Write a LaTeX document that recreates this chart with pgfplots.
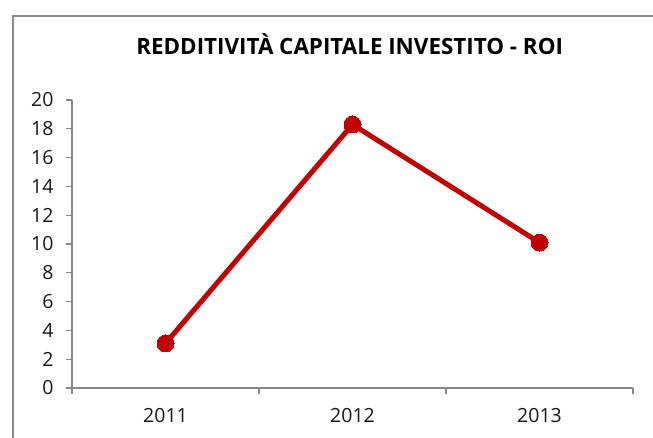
\documentclass[border=0pt]{standalone}
\usepackage{pgfplots}
\pgfplotsset{compat=1.18}
\usepackage{fontspec}
\setmainfont{Open Sans}
\definecolor{roired}{HTML}{C00000}
\definecolor{axisgray}{HTML}{888888}
\definecolor{framegray}{HTML}{8C8C8C}
\begin{document}
\begin{tikzpicture}
\path[use as bounding box, clip] (0,0) rectangle (653bp,438bp);
\fill[white] (0,0) rectangle (653bp,438bp);
\draw[framegray, line width=1.6bp] (13bp,-10bp) -- (13bp,422bp) -- (700bp,422bp);
\begin{axis}[
  at={(72bp,50bp)}, anchor=south west,
  scale only axis, width=561bp, height=288bp,
  xmin=0, xmax=3, ymin=0, ymax=20,
  axis lines*=left,
  axis line style={draw=axisgray, line width=1.2bp},
  tick align=outside,
  ytick={0,2,...,20},
  major tick length=6bp, minor tick length=6bp,
  every tick/.style={draw=axisgray, line width=1.2bp},
  xtick={0.5,1.5,2.5}, xticklabels={2011,2012,2013},
  major x tick style={draw=none},
  minor xtick={0,1,2,3},
  /pgf/number format/assume math mode=true,
  yticklabel style={font=\fontsize{19.5bp}{22bp}\selectfont, text=black!90, xshift=-9bp},
  xticklabel style={font=\fontsize{19.5bp}{22bp}\selectfont, text=black!90, yshift=-11bp},
  title={\textbf{REDDITIVITÀ CAPITALE INVESTITO - ROI}},
  title style={at={(0.495,1.172)}, anchor=center, font=\fontsize{22.4bp}{26bp}\selectfont},
  clip=false,
]
\addplot[roired, line width=5bp, mark=*, mark size=8.5bp, mark options={fill=roired, draw=roired, line width=0bp}]
  coordinates {(0.5,3.1) (1.5,18.3) (2.5,10.1)};
\end{axis}
\end{tikzpicture}
\end{document}
